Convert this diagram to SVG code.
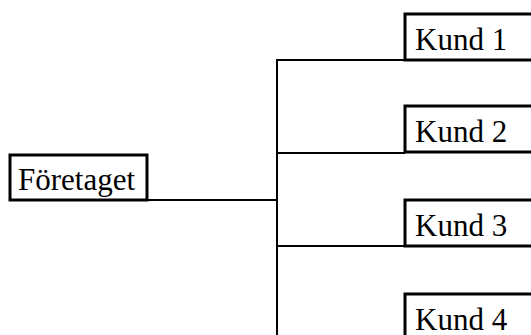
<svg xmlns="http://www.w3.org/2000/svg" width="531" height="335" viewBox="0 0 531 335">
<style>
.box{fill:#fff;stroke:#000;stroke-width:3}
.lbl{font-family:"Liberation Serif","Times New Roman",serif;font-size:31px;fill:#000}
.conn{stroke:#000;stroke-width:2;fill:none}
</style>
<rect width="531" height="335" fill="#fff"/>
<g id="connectors">
<path class="conn" d="M148 200H277M277 59V342M277 60H405M277 153H405M277 246H405M277 340H405"/>
</g>
<g id="foretaget">
<rect class="box" x="10" y="155" width="137" height="45"/>
<text class="lbl" x="18" y="190">Företaget</text>
</g>
<g id="kund1">
<rect class="box" x="405" y="14" width="140" height="46"/>
<text class="lbl" x="415" y="50">Kund 1</text>
</g>
<g id="kund2">
<rect class="box" x="405" y="106" width="140" height="46"/>
<text class="lbl" x="415" y="142">Kund 2</text>
</g>
<g id="kund3">
<rect class="box" x="405" y="200" width="140" height="46"/>
<text class="lbl" x="415" y="236">Kund 3</text>
</g>
<g id="kund4">
<rect class="box" x="405" y="294" width="140" height="46"/>
<text class="lbl" x="415" y="330">Kund 4</text>
</g>
</svg>
